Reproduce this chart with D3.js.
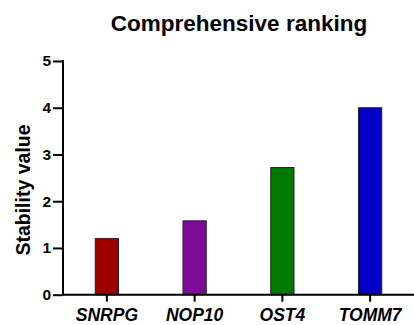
<!DOCTYPE html>
<html><head><meta charset="utf-8">
<script src="https://cdn.jsdelivr.net/npm/d3@7"></script>
<style>body{margin:0;background:#fff}svg{display:block;font-family:Arial,"Liberation Sans",sans-serif}</style>
</head><body>
<script>
const categories = ["SNRPG", "NOP10", "OST4", "TOMM7"];
const values = [1.2, 1.58, 2.72, 4.0];
const colors = ["#9e0000", "#7b0a98", "#007a00", "#0000c4"];
const yTicks = [0, 1, 2, 3, 4, 5];
const title = "Comprehensive ranking";
const yLabel = "Stability value";

const W = 414, H = 325;
const m = {left: 63, right: 0, top: 61, bottom: 30.3};
const svg = d3.select("body").append("svg").attr("width", W).attr("height", H);
const x = d3.scaleBand().domain(categories).range([m.left, W]).paddingInner(0.735).paddingOuter(0.3675);
const y = d3.scaleLinear().domain([0, 5]).range([H - m.bottom, m.top]);

svg.append("g").selectAll("rect").data(categories).join("rect")
  .attr("x", d => x(d)).attr("width", x.bandwidth())
  .attr("y", (d, i) => y(values[i])).attr("height", (d, i) => y(0) - y(values[i]))
  .attr("fill", (d, i) => colors[i]).attr("stroke", "#222").attr("stroke-width", 1);

const ya = svg.append("g").attr("transform", `translate(${m.left},0)`)
  .call(d3.axisLeft(y).tickValues(yTicks).tickFormat(d3.format("d")).tickSize(10).tickPadding(2));
ya.select(".domain").attr("stroke-width", 2).attr("d", `M0,${y(5) - 1}V${y(0)}`);
ya.selectAll(".tick line").attr("stroke-width", 2);
ya.selectAll("text").attr("font-size", 15.5).attr("font-weight", "bold").attr("fill", "#000").attr("font-family", "Arial, 'Liberation Sans', sans-serif");

const xa = svg.append("g").attr("transform", `translate(0,${y(0)})`)
  .call(d3.axisBottom(x).tickSize(7).tickPadding(7));
xa.select(".domain").attr("stroke-width", 2).attr("d", `M${m.left - 1},0H${W}`);
xa.selectAll(".tick line").attr("stroke-width", 2);
xa.selectAll("text").attr("font-size", 17.5).attr("font-weight", "bold").attr("font-style", "italic").attr("fill", "#000").attr("font-family", "Arial, 'Liberation Sans', sans-serif");

svg.append("text").attr("x", 239).attr("y", 31).attr("text-anchor", "middle")
  .attr("font-size", 22.5).attr("font-weight", "bold").text(title);
svg.append("text").attr("transform", `translate(30,190) rotate(-90)`).attr("text-anchor", "middle")
  .attr("font-size", 19.5).attr("font-weight", "bold").text(yLabel);
</script>
</body></html>
